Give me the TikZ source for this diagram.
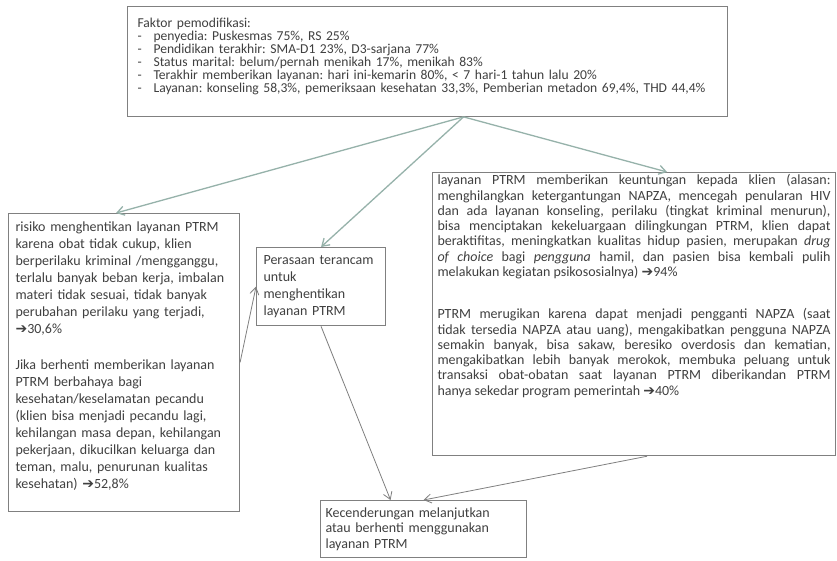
\documentclass[tikz,border=0pt]{standalone}
\usepackage{fontspec}
\setmainfont{Carlito}
\newfontfamily\arrowfont{DejaVu Sans}
\usetikzlibrary{shapes}
\usetikzlibrary{positioning}
\usetikzlibrary{arrows.meta}
\definecolor{boxgray}{RGB}{128,128,128}
\definecolor{textgray}{RGB}{64,64,64}
\definecolor{linkgreen}{RGB}{150,178,170}
\newcommand{\res}[1]{{\arrowfont ➔}#1}
\frenchspacing

\begin{document}
\begin{tikzpicture}[x=1pt,y=-1pt,>={Straight Barb[length=7pt,width=9pt]},
  box node/.style={draw=boxgray,line width=1.1pt,anchor=north west,text=textgray,fill=white},
  link/.style={->,draw=linkgreen,line width=1.3pt},
  link2/.style={->,draw=boxgray,line width=0.8pt}]

\useasboundingbox[fill=white] (0,0) rectangle (837,561);

\node[box node, align=left, text width=580pt, inner xsep=10pt, inner ysep=12pt, font=\fontsize{13.6}{13}\selectfont] at (127,6) (1) {Faktor pemodifikasi:\\
\makebox[16pt][l]{-}penyedia: Puskesmas 75\%, RS 25\%\\
\makebox[16pt][l]{-}Pendidikan terakhir: SMA-D1 23\%, D3-sarjana 77\%\\
\makebox[16pt][l]{-}Status marital: belum/pernah menikah 17\%, menikah 83\%\\
\makebox[16pt][l]{-}Terakhir memberikan layanan: hari ini-kemarin 80\%, < 7 hari-1 tahun lalu 20\%\\
\makebox[16pt][l]{-}Layanan: konseling 58,3\%, pemeriksaan kesehatan 33,3\%, Pemberian metadon 69,4\%, THD 44,4\%\par\vspace{9pt}};

\node[box node, align=left, text width=217pt, inner xsep=7pt, inner ysep=8pt, font=\fontsize{14}{17}\selectfont] at (8,213) (2) {risiko menghentikan layanan PTRM\\
karena obat tidak cukup, klien\\
berperilaku kriminal /mengganggu,\\
terlalu banyak beban kerja, imbalan\\
materi tidak sesuai, tidak banyak\\
perubahan perilaku yang terjadi,\\
\res{30,6\%}\\[19pt]
Jika berhenti memberikan layanan\\
PTRM berbahaya bagi\\
kesehatan/keselamatan pecandu\\
(klien bisa menjadi pecandu lagi,\\
kehilangan masa depan, kehilangan\\
pekerjaan, dikucilkan keluarga dan\\
teman, malu, penurunan kualitas\\
kesehatan) \res{52,8\%}\par\vspace{13pt}};

\node[box node, align=left, text width=115pt, inner xsep=7pt, inner ysep=8pt, font=\fontsize{14}{17}\selectfont] at (256,247) (3) {Perasaan terancam\\
untuk\\
menghentikan\\
layanan PTRM};

\node[box node, align=justify, text width=393pt, inner xsep=5pt, inner ysep=2pt, font=\fontsize{14}{15.3}\selectfont] at (432,172) (4) {layanan PTRM memberikan keuntungan kepada klien (alasan:\linebreak
menghilangkan ketergantungan NAPZA, mencegah penularan HIV\linebreak
dan ada layanan konseling, perilaku (tingkat kriminal menurun),\linebreak
bisa menciptakan kekeluargaan dilingkungan PTRM, klien dapat\linebreak
beraktifitas, meningkatkan kualitas hidup pasien, merupakan \textit{drug}\linebreak
\textit{of choice} bagi \textit{pengguna} hamil, dan pasien bisa kembali pulih\linebreak
melakukan kegiatan psikososialnya) \res{94\%}\par\vspace{26.9pt}
PTRM merugikan karena dapat menjadi pengganti NAPZA (saat\linebreak
tidak tersedia NAPZA atau uang), mengakibatkan pengguna NAPZA\linebreak
semakin banyak, bisa sakaw, beresiko overdosis dan kematian,\linebreak
mengakibatkan lebih banyak merokok, membuka peluang untuk\linebreak
transaksi obat-obatan saat layanan PTRM diberikandan PTRM\linebreak
hanya sekedar program pemerintah \res{40\%}\par\vspace{56pt}};

\node[box node, align=left, text width=196pt, inner xsep=5pt, inner ysep=7pt, font=\fontsize{14}{15.5}\selectfont] at (320,500) (5) {Kecenderungan melanjutkan\\
atau berhenti menggunakan\\
layanan PTRM};

\coordinate (o) at ([xshift=36pt]1.south);

\path
(o) edge[link] ([xshift=-8pt]2.north)
(o) edge[link] (3.north)
(o) edge[link] ([xshift=33pt]4.north)
(2.east) edge[link2] (3.west)
(3.south) edge[link2] ([xshift=-33pt]5.north)
([xshift=13pt]4.south) edge[link2] (5.north)
;

\end{tikzpicture}
\end{document}
